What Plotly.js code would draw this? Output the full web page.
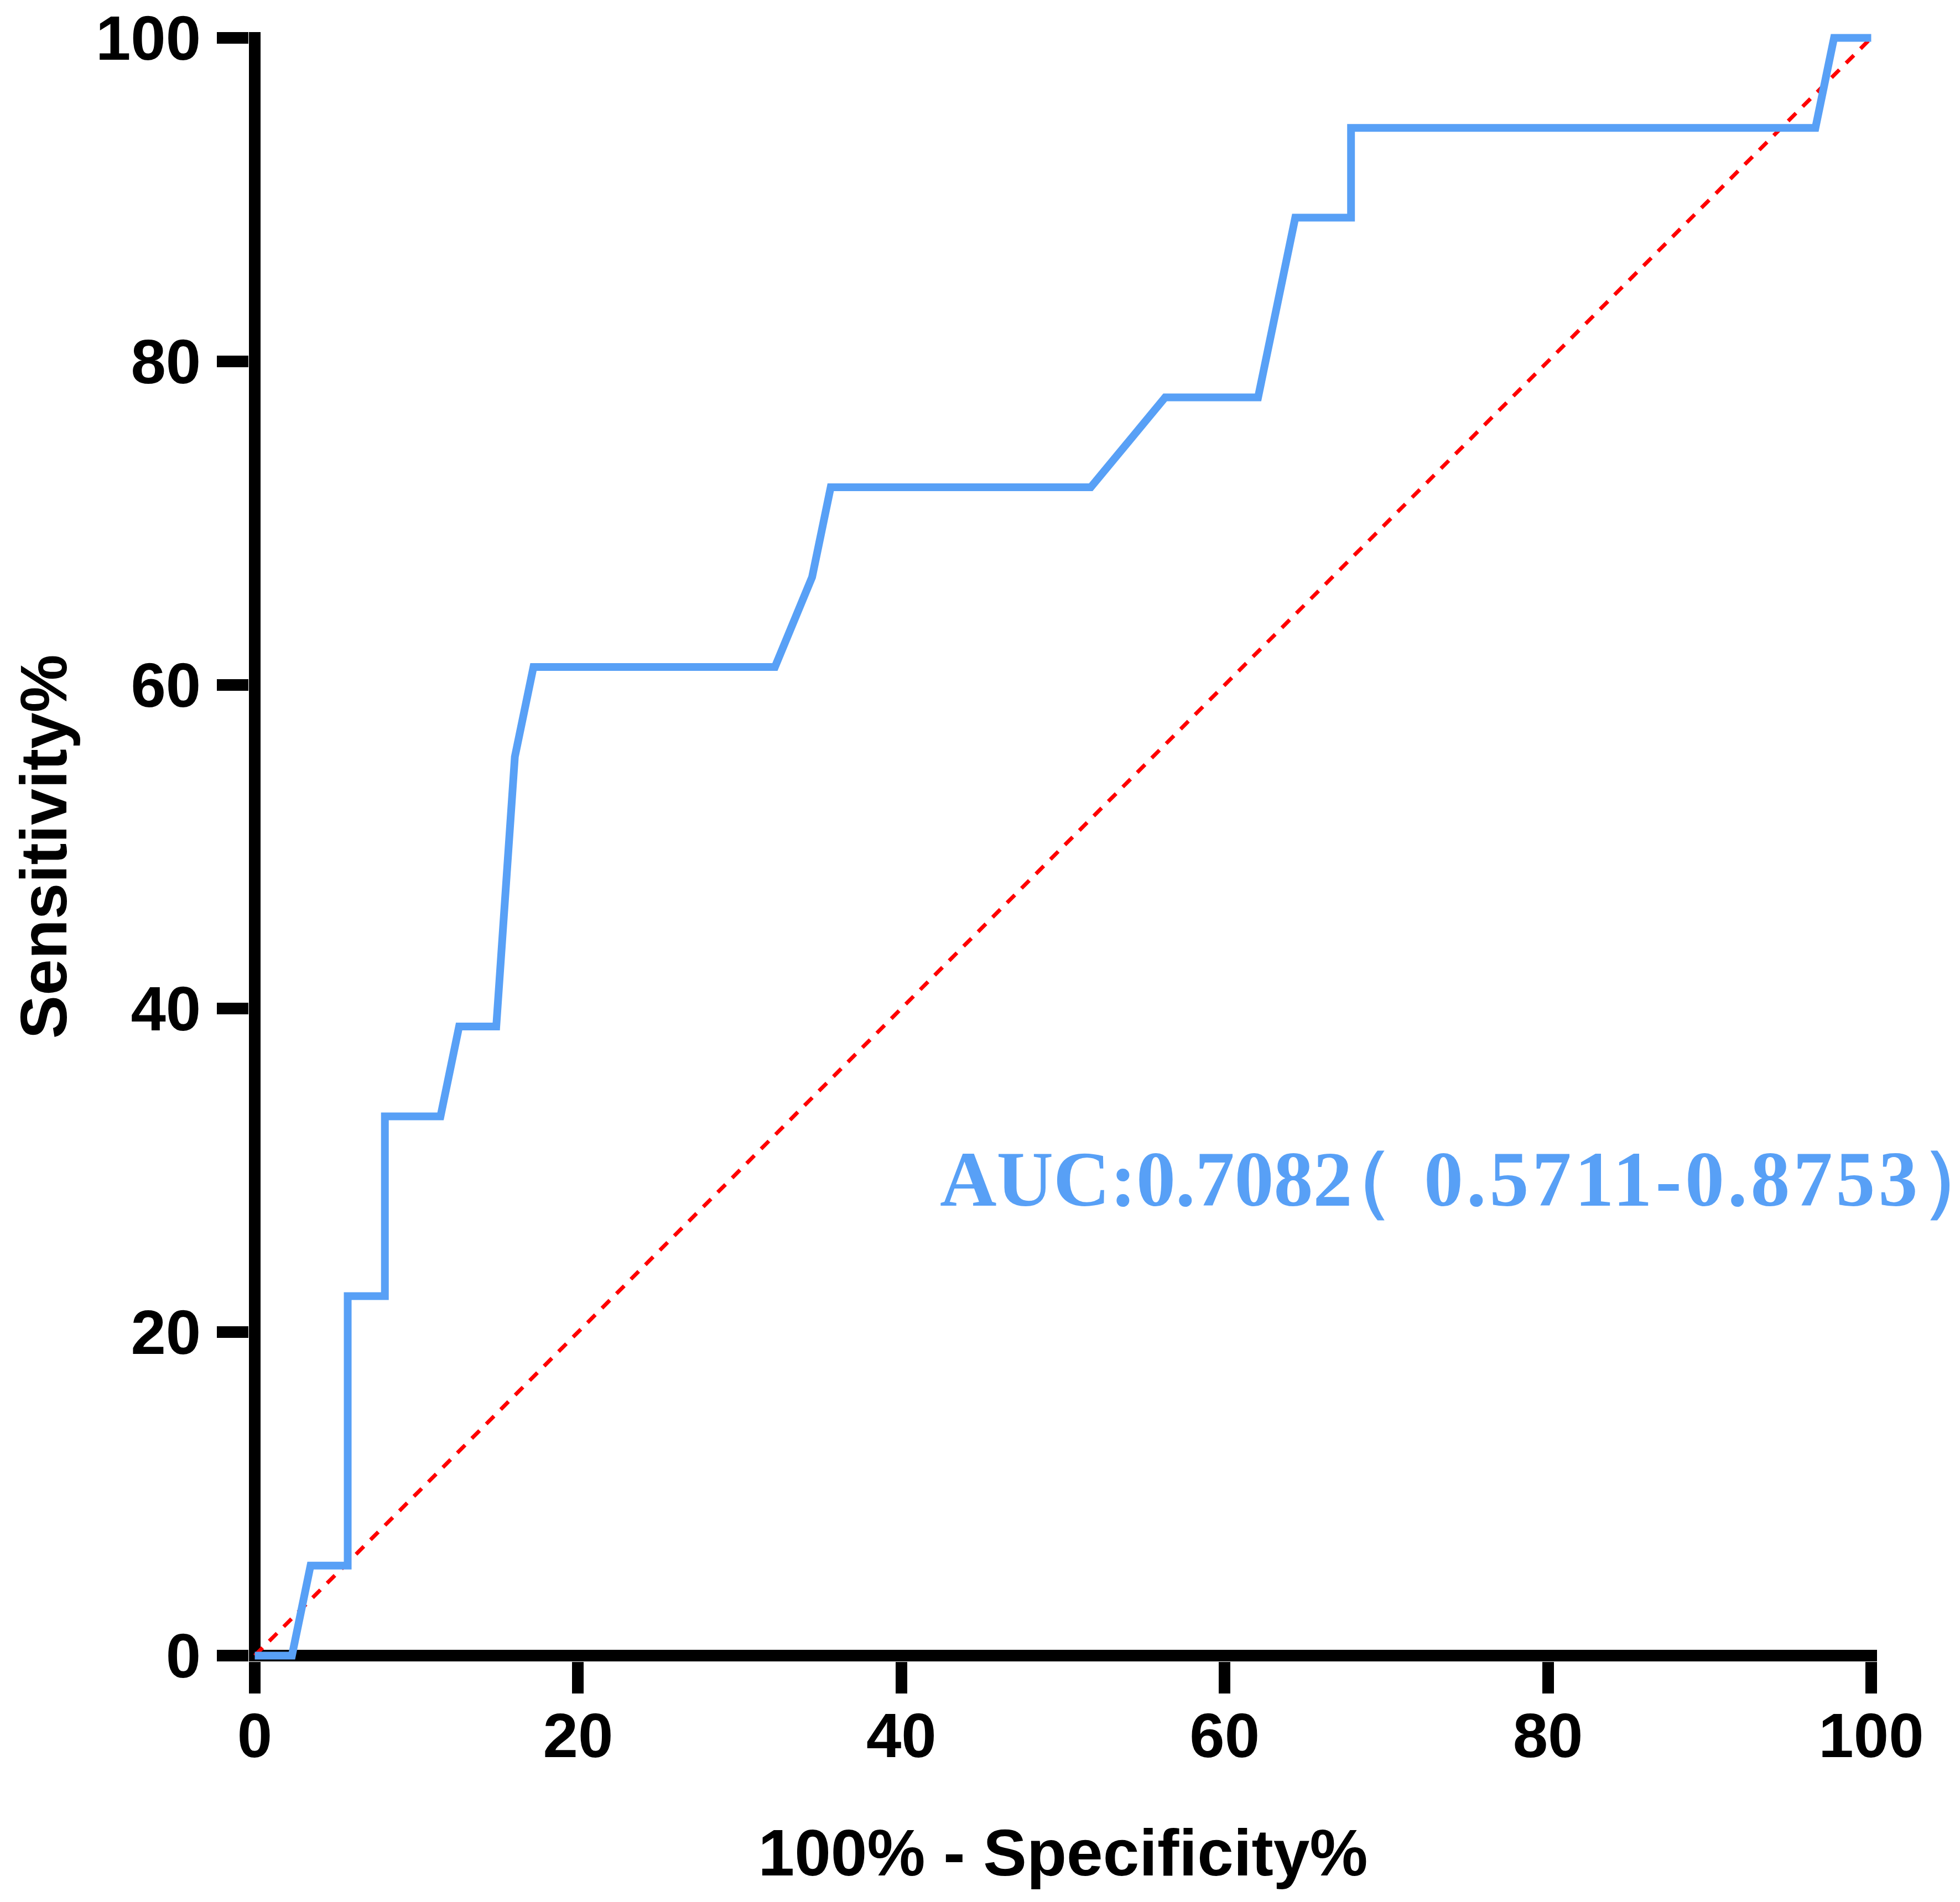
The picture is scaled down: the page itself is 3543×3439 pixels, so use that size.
<!DOCTYPE html>
<html>
<head>
<meta charset="utf-8">
<script src="https://cdn.plot.ly/plotly-3.0.1.min.js"></script>
<style>html,body{margin:0;padding:0;background:#fff}</style>
</head>
<body>
<div id="roc"></div>
<script>
// ROC curve (100% - specificity vs sensitivity, in %)
const fpr = [0, 2.30, 3.45, 5.75, 5.75, 8.05, 8.05, 11.49, 12.64, 14.94, 16.09, 17.24, 32.18, 34.48, 35.63, 51.72, 56.32, 62.07, 64.37, 67.82, 67.82, 96.55, 97.70, 100];
const tpr = [0, 0, 5.56, 5.56, 22.22, 22.22, 33.33, 33.33, 38.89, 38.89, 55.56, 61.11, 61.11, 66.67, 72.22, 72.22, 77.78, 77.78, 88.89, 88.89, 94.44, 94.44, 100, 100];

// reference line
const diagX = [0, 100];
const diagY = [0, 100];

const tickVals = [0, 20, 40, 60, 80, 100];

// full-width brackets sit wide in the fallback CJK font, pull them in a bit
const aucText = "AUC:0.708<span style='letter-spacing:-66px'>2</span>" +
    "<span style='letter-spacing:12px'>（</span>" +
    "<span style='letter-spacing:6px'> 0.5711-0.8753</span>" +
    "<span style='letter-spacing:-90px'>）</span>";

const BLUE = "#58A0F6";
const sans = "Liberation Sans, Arial, Helvetica, sans-serif";

const data = [
    {
        x: diagX, y: diagY,
        type: "scatter", mode: "lines",
        line: {color: "#FF0000", width: 7, dash: "20px,17px"},
        hoverinfo: "skip"
    },
    {
        x: fpr, y: tpr,
        type: "scatter", mode: "lines",
        line: {color: BLUE, width: 14},
        hoverinfo: "skip"
    }
];

const axisBase = {
    range: [-0.36, 100.36],
    tickvals: tickVals,
    ticks: "outside",
    ticklen: 57,
    tickwidth: 21,
    tickcolor: "#000",
    showgrid: false,
    showline: false,
    zeroline: true,
    zerolinewidth: 21,
    zerolinecolor: "#000",
    automargin: false,
    fixedrange: true,
    tickfont: {family: sans, size: 114, color: "#000", weight: "bold"}
};

const layout = {
    width: 3543,
    height: 3439,
    margin: {l: 450, r: 150, t: 58, b: 435},
    paper_bgcolor: "#fff",
    plot_bgcolor: "#fff",
    showlegend: false,
    xaxis: Object.assign({}, axisBase, {
        ticklabelstandoff: -22,
        title: {text: "100% - Specificity%", standoff: 108,
                font: {family: sans, size: 118, color: "#000", weight: "bold"}}
    }),
    yaxis: Object.assign({}, axisBase, {
        ticklabelstandoff: 6,
        title: {text: "Sensitivity%", standoff: 12,
                font: {family: sans, size: 118, color: "#000", weight: "bold"}}
    }),
    annotations: [{
        text: aucText,
        x: 42.3, y: 29.45,
        xref: "x", yref: "y",
        xanchor: "left", yanchor: "middle",
        showarrow: false,
        font: {family: "Liberation Serif, Times New Roman, serif", size: 142, color: BLUE, weight: "bold"}
    }]
};

Plotly.newPlot("roc", data, layout, {staticPlot: true, displayModeBar: false});
</script>
</body>
</html>
